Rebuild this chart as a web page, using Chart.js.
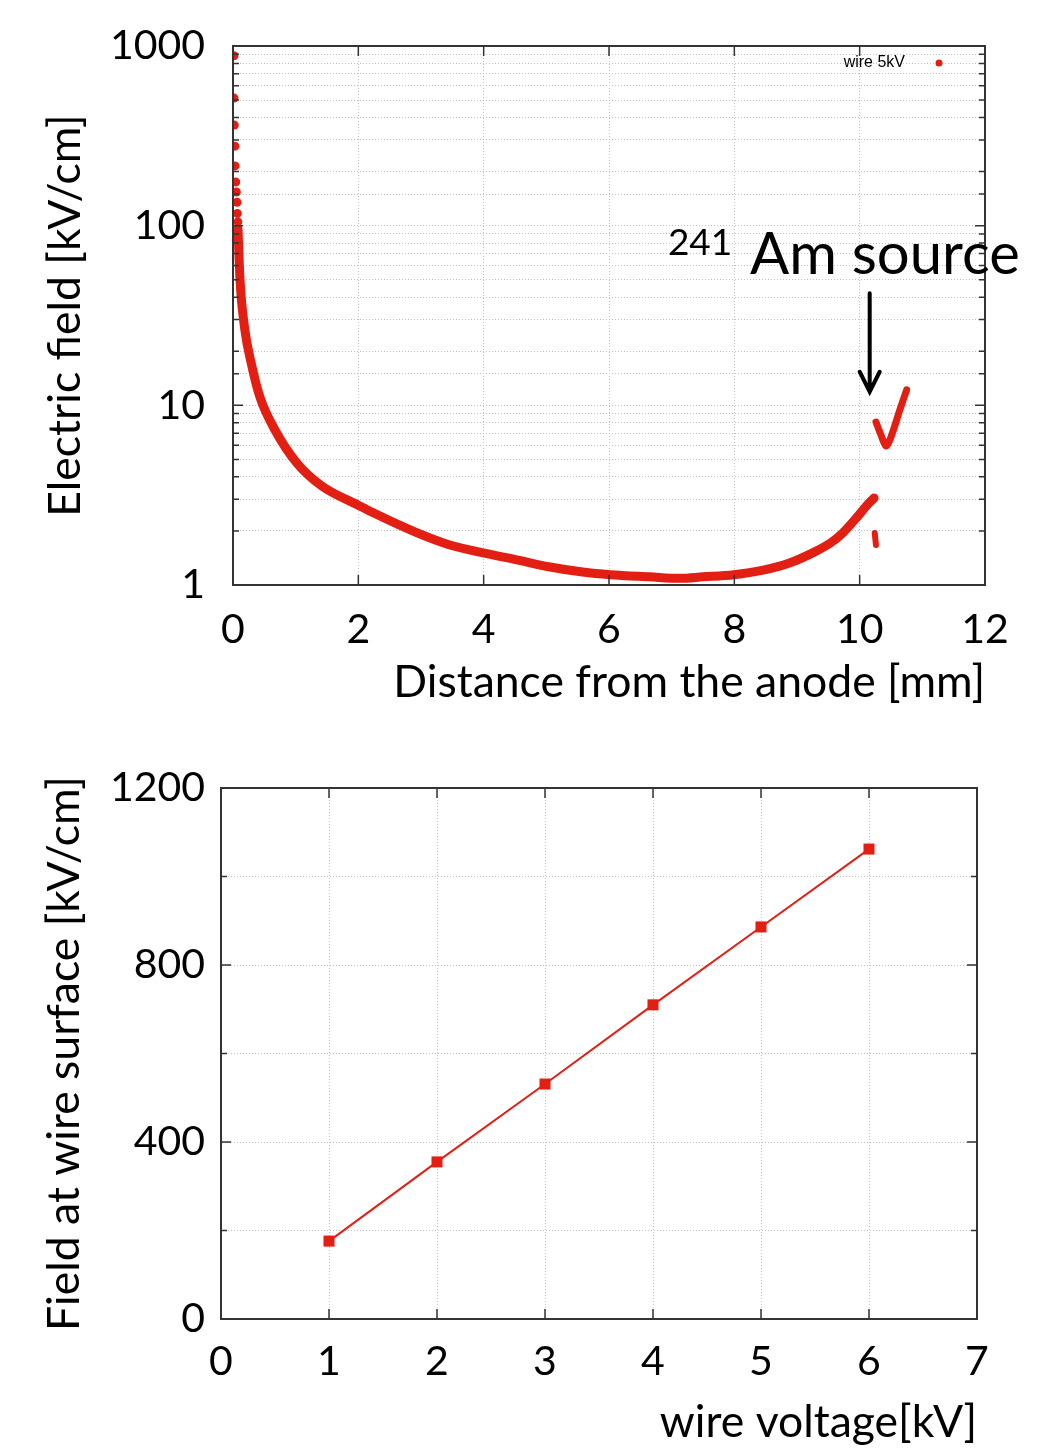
<!DOCTYPE html>
<html>
<head>
<meta charset="utf-8">
<script src="https://cdn.jsdelivr.net/npm/chart.js@4/dist/chart.umd.min.js"></script>
<style>
    html, body { margin: 0; padding: 0; background: #fff; }
    canvas { display: block; }
</style>
</head>
<body>
<canvas id="fieldChart" width="1037" height="720"></canvas>
<canvas id="voltageChart" width="1037" height="734"></canvas>
<script>
// =========================================================================
// DATA
// =========================================================================

// Top plot: field vs distance, wire at 5 kV
const nearWireDistance = [0.015, 0.016, 0.021, 0.030, 0.032, 0.043, 0.053, 0.064, 0.069, 0.078];
const nearWireField    = [882, 513, 363, 277, 215, 175, 154, 135, 117, 105];

const curveDistance = [0.08, 0.112, 0.19, 0.29, 0.43, 0.67, 1.02, 1.42, 2.0, 2.23, 2.94, 3.46, 3.99, 4.53, 5.06, 5.58, 6.02, 6.65, 7.13, 7.50, 7.99, 8.46, 8.89, 9.25, 9.53, 9.73, 9.96, 10.12, 10.23];
const curveField    = [96, 49.8, 26.2, 17.2, 11.1, 7.29, 4.77, 3.55, 2.78, 2.53, 1.95, 1.67, 1.51, 1.38, 1.26, 1.18, 1.14, 1.11, 1.09, 1.11, 1.14, 1.21, 1.33, 1.51, 1.71, 1.95, 2.39, 2.79, 3.05];

const stubDistance = [10.24, 10.26];
const stubField    = [1.95, 1.67];

const sourceDistance = [10.26, 10.34, 10.42, 10.50, 10.64, 10.75];
const sourceField    = [8.07, 6.84, 5.94, 6.67, 9.42, 12.2];

const fieldTickLabels = [1, 10, 100, 1000];

// Bottom plot: surface field vs wire voltage
const wireVoltage  = [1, 2, 3, 4, 5, 6];
const surfaceField = [176, 355, 531, 710, 886, 1062];

const RED = '#e31f14';
const FONT = 'Lato';

function toPoints(xs, ys) {
    return xs.map((x, i) => ({ x: x, y: ys[i] }));
}

// Box frame with inward tick marks (gnuplot look)
const framePlugin = {
    id: 'frame',
    afterDraw(chart) {
        const { ctx, chartArea: a, scales } = chart;
        ctx.save();
        ctx.strokeStyle = '#333';
        ctx.lineWidth = 1.5;
        ctx.beginPath();
        scales.y.ticks.forEach(t => {
            const py = scales.y.getPixelForValue(t.value);
            const len = t.label !== '' ? 10 : 6;
            ctx.moveTo(a.left, py); ctx.lineTo(a.left + len, py);
            ctx.moveTo(a.right, py); ctx.lineTo(a.right - len, py);
        });
        scales.x.ticks.forEach(t => {
            const px = scales.x.getPixelForValue(t.value);
            ctx.moveTo(px, a.bottom); ctx.lineTo(px, a.bottom - 10);
            ctx.moveTo(px, a.top); ctx.lineTo(px, a.top + 10);
        });
        ctx.stroke();
        ctx.lineWidth = 2;
        ctx.strokeRect(a.left, a.top, a.right - a.left, a.bottom - a.top);
        ctx.restore();
    }
};

// Legend + 241Am annotation for the top plot
const annotatePlugin = {
    id: 'annotate',
    afterDraw(chart) {
        const { ctx, chartArea: a, scales } = chart;
        const sx = scales.x, sy = scales.y;
        ctx.save();

        // legend
        ctx.fillStyle = '#000';
        ctx.font = '16px "Liberation Sans", Arial, sans-serif';
        ctx.textAlign = 'right';
        ctx.textBaseline = 'middle';
        ctx.fillText('wire 5kV', a.right - 80, a.top + 17);
        ctx.fillStyle = RED;
        ctx.beginPath();
        ctx.arc(a.right - 46, a.top + 17, 3.5, 0, Math.PI * 2);
        ctx.fill();

        // text
        ctx.fillStyle = '#000';
        ctx.textAlign = 'left';
        ctx.font = '37px ' + FONT;
        ctx.fillText('241', sx.getPixelForValue(6.94), sy.getPixelForValue(80));
        ctx.font = '58px ' + FONT;
        ctx.fillText('Am source', sx.getPixelForValue(8.25), sy.getPixelForValue(68.6));

        // arrow
        const ax = sx.getPixelForValue(10.16);
        const y0 = sy.getPixelForValue(42);
        const tip = sy.getPixelForValue(11.9);
        ctx.strokeStyle = '#000';
        ctx.lineWidth = 4;
        ctx.lineCap = 'round';
        ctx.beginPath();
        ctx.moveTo(ax, y0); ctx.lineTo(ax, tip - 2);
        ctx.moveTo(ax - 10, tip - 20); ctx.lineTo(ax, tip); ctx.lineTo(ax + 10, tip - 20);
        ctx.stroke();
        ctx.restore();
    }
};

const gridStyle = { color: '#c2c2c2', lineWidth: 1, drawTicks: false };
const borderStyle = { display: true, color: '#333', width: 2, dash: [1, 2] };
const tickFont = { family: FONT, size: 41 };
const titleFont = { family: FONT, size: 44.5 };

document.addEventListener('DOMContentLoaded', function () {

    // --- Top chart: electric field vs distance ---
    new Chart(document.getElementById('fieldChart'), {
        type: 'scatter',
        data: {
            datasets: [
                {
                    label: 'wire 5kV',
                    data: toPoints(nearWireDistance, nearWireField),
                    backgroundColor: RED,
                    borderWidth: 0,
                    pointRadius: 4.5
                },
                {
                    data: toPoints(curveDistance, curveField),
                    showLine: true,
                    borderColor: RED,
                    borderWidth: 9,
                    borderCapStyle: 'round',
                    borderJoinStyle: 'round',
                    cubicInterpolationMode: 'monotone',
                    pointRadius: 0
                },
                {
                    data: toPoints(stubDistance, stubField),
                    showLine: true,
                    borderColor: RED,
                    borderWidth: 6,
                    borderCapStyle: 'round',
                    pointRadius: 0
                },
                {
                    data: toPoints(sourceDistance, sourceField),
                    showLine: true,
                    borderColor: RED,
                    borderWidth: 7,
                    borderCapStyle: 'round',
                    borderJoinStyle: 'round',
                    tension: 0.3,
                    pointRadius: 0
                }
            ]
        },
        options: {
            responsive: false,
            animation: false,
            layout: { padding: { top: 46, right: 52, left: 0, bottom: 0 } },
            plugins: { legend: { display: false }, tooltip: { enabled: false } },
            scales: {
                x: {
                    type: 'linear', min: 0, max: 12,
                    ticks: { stepSize: 2, padding: 20, color: '#000', font: tickFont, autoSkip: false, maxRotation: 0 },
                    grid: gridStyle,
                    border: borderStyle,
                    title: { display: true, text: 'Distance from the anode [mm]', align: 'end', color: '#000', font: titleFont, padding: { top: 0, bottom: 11 } },
                    afterFit(s) { s.height = 135; s.paddingLeft = 0; s.paddingRight = 0; }
                },
                y: {
                    type: 'logarithmic', min: 1, max: 1000,
                    ticks: {
                        padding: 28, color: '#000', font: tickFont, autoSkip: false,
                        callback: v => fieldTickLabels.includes(v) ? String(v) : ''
                    },
                    grid: gridStyle,
                    border: borderStyle,
                    title: { display: true, text: 'Electric field [kV/cm]', color: '#000', font: titleFont, padding: { top: 39, bottom: 0 } },
                    afterFit(s) { s.width = 233; s.paddingTop = 0; s.paddingBottom = 0; }
                }
            }
        },
        plugins: [framePlugin, annotatePlugin]
    });

    // --- Bottom chart: surface field vs wire voltage ---
    new Chart(document.getElementById('voltageChart'), {
        type: 'line',
        data: {
            datasets: [{
                data: toPoints(wireVoltage, surfaceField),
                borderColor: RED,
                backgroundColor: RED,
                borderWidth: 2,
                pointStyle: 'rect',
                pointRadius: 7.8,
                pointBorderWidth: 0,
                tension: 0
            }]
        },
        options: {
            responsive: false,
            animation: false,
            layout: { padding: { top: 68, right: 60, left: 0, bottom: 0 } },
            plugins: { legend: { display: false }, tooltip: { enabled: false } },
            scales: {
                x: {
                    type: 'linear', min: 0, max: 7,
                    ticks: { stepSize: 1, padding: 18, color: '#000', font: tickFont, autoSkip: false, maxRotation: 0 },
                    grid: gridStyle,
                    border: borderStyle,
                    title: { display: true, text: 'wire voltage[kV]', align: 'end', color: '#000', font: titleFont, padding: { top: 0, bottom: 5 } },
                    afterFit(s) { s.height = 135; s.paddingLeft = 0; s.paddingRight = 0; }
                },
                y: {
                    type: 'linear', min: 0, max: 1200,
                    ticks: {
                        stepSize: 200, padding: 16, color: '#000', font: tickFont, autoSkip: false,
                        callback: v => v % 400 === 0 ? String(v) : ''
                    },
                    grid: gridStyle,
                    border: borderStyle,
                    title: { display: true, text: 'Field at wire surface [kV/cm]', color: '#000', font: titleFont, padding: { top: 38, bottom: 0 } },
                    afterFit(s) { s.width = 221; s.paddingTop = 0; s.paddingBottom = 0; }
                }
            }
        },
        plugins: [framePlugin]
    });
});
</script>
</body>
</html>
